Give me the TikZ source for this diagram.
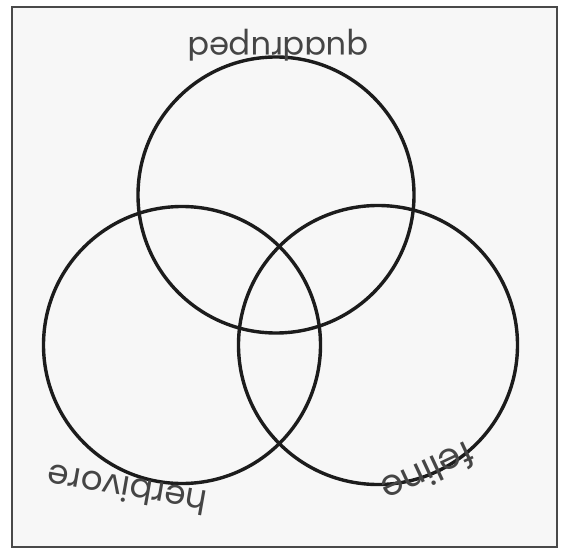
\documentclass[tikz,border=0pt]{standalone}
\usepackage{fontspec}
\setmainfont{Poppins}
\definecolor{paper}{HTML}{F7F7F7}
\definecolor{ink}{HTML}{1C1C1C}
\definecolor{pencil}{HTML}{454545}
\tikzset{
  setcircle/.style={circle, draw=ink, line width=3.4pt, inner sep=0pt},
  handlabel/.style={text=pencil, inner sep=0pt}
}
\begin{document}
\begin{tikzpicture}[x=1pt,y=1pt]
\useasboundingbox (0,0) rectangle (565,550);
\fill[white] (0,0) rectangle (565,550);
\draw[fill=paper, draw=ink!80, line width=1.6pt] (12,3) rectangle (557,543);
\node[setcircle, minimum size=276pt] (quad) at (276,355) {};
\node[setcircle, minimum size=277pt] (herb) at (182,205) {};
\node[setcircle, minimum size=279pt] (fel) at (378,205) {};
\node[handlabel, font=\fontsize{32}{32}\selectfont, rotate=180] (lquad) at (278,505) {quadruped};
\node[handlabel, font=\fontsize{34}{34}\selectfont, rotate=170] (lherb) at (127,60) {herbivore};
\node[handlabel, font=\fontsize{36}{36}\selectfont, rotate=205] (lfel) at (428,77) {feline};
\end{tikzpicture}
\end{document}
